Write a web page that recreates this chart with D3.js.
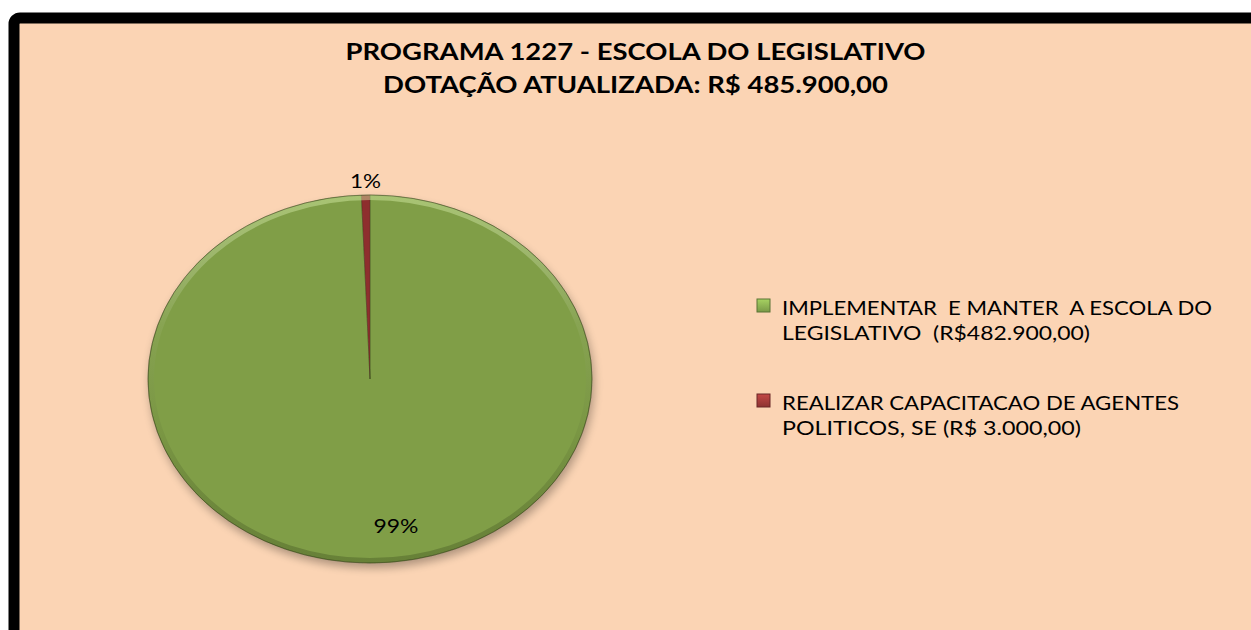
<!DOCTYPE html>
<html>
<head>
<meta charset="utf-8">
<script src="https://cdn.jsdelivr.net/npm/d3@7"></script>
<style>
  html, body { margin: 0; padding: 0; background: #ffffff; }
  svg { display: block; }
</style>
</head>
<body>
<svg id="chart" width="1251" height="630"></svg>
<script>
// ---------- data ----------
const titleLines = ["PROGRAMA 1227 - ESCOLA DO LEGISLATIVO", "DOTAÇÃO ATUALIZADA: R$ 485.900,00"];
const categories = ["IMPLEMENTAR E MANTER A ESCOLA DO LEGISLATIVO (R$482.900,00)",
                    "REALIZAR CAPACITACAO DE AGENTES POLITICOS, SE (R$ 3.000,00)"];
const legendLines = [["IMPLEMENTAR  E MANTER  A ESCOLA DO", "LEGISLATIVO  (R$482.900,00)"],
                     ["REALIZAR CAPACITACAO DE AGENTES", "POLITICOS, SE (R$ 3.000,00)"]];
const values = [482900, 3000];
const percentLabels = ["99%", "1%"];
const colors = ["#809E46", "#8E2F2D"];
const markerColors = ["#8CB052", "#A33B3A"];

// ---------- layout ----------
const W = 1251, H = 630;
const font = "Lato, 'Open Sans', 'DejaVu Sans', sans-serif";
const svg = d3.select("#chart");
const defs = svg.append("defs");

// frame
svg.append("rect")
  .attr("x", 14).attr("y", 18)
  .attr("width", W + 40).attr("height", H + 40)
  .attr("rx", 6).attr("ry", 6)
  .attr("fill", "#FBD4B4")
  .attr("stroke", "#000").attr("stroke-width", 11);

// title
const titleWidths = [580, 505];
svg.append("g").selectAll("text").data(titleLines).join("text")
  .attr("x", 635.5)
  .attr("y", (d, i) => 60 + i * 33)
  .attr("text-anchor", "middle")
  .attr("font-family", font).attr("font-weight", 700).attr("font-size", 22)
  .attr("fill", "#000")
  .attr("textLength", (d, i) => titleWidths[i])
  .attr("lengthAdjust", "spacingAndGlyphs")
  .text(d => d);

// pie
const cx = 370, cy = 379, rx = 222, ry = 184;
const sx = rx / ry;
const pie = d3.pie().sort(null).value(d => d);
const arcs = pie(values);
const arc = d3.arc().innerRadius(0).outerRadius(ry);

// shadow filter
const f = defs.append("filter").attr("id", "shadow")
  .attr("x", "-20%").attr("y", "-20%").attr("width", "140%").attr("height", "140%");
f.append("feGaussianBlur").attr("in", "SourceAlpha").attr("stdDeviation", 4).attr("result", "b");
f.append("feOffset").attr("in", "b").attr("dx", 2).attr("dy", 5).attr("result", "o");
f.append("feComponentTransfer").attr("in", "o").attr("result", "oa")
  .append("feFuncA").attr("type", "linear").attr("slope", 0.3);
const fm = f.append("feMerge");
fm.append("feMergeNode").attr("in", "oa");
fm.append("feMergeNode").attr("in", "SourceGraphic");

// rim gradient
const rg = defs.append("linearGradient").attr("id", "rim")
  .attr("x1", 0).attr("y1", 0).attr("x2", 0).attr("y2", 1);
rg.append("stop").attr("offset", "0%").attr("stop-color", "#d8f0a8").attr("stop-opacity", 0.45);
rg.append("stop").attr("offset", "35%").attr("stop-color", "#ffffff").attr("stop-opacity", 0.06);
rg.append("stop").attr("offset", "65%").attr("stop-color", "#000000").attr("stop-opacity", 0.05);
rg.append("stop").attr("offset", "100%").attr("stop-color", "#1e2a0a").attr("stop-opacity", 0.25);

const pg = svg.append("g").attr("transform", `translate(${cx},${cy}) scale(${sx},1)`);
const pieBody = pg.append("g").attr("filter", "url(#shadow)");
pieBody.selectAll("path.slice").data(arcs).join("path")
  .attr("class", "slice")
  .attr("d", arc)
  .attr("fill", (d, i) => colors[i])
  .attr("stroke", "rgba(40,50,20,0.3)")
  .attr("stroke-width", 1)
  .attr("vector-effect", "non-scaling-stroke");

// bevel rim
pg.append("circle").attr("r", ry - 2.5)
  .attr("fill", "none")
  .attr("stroke", "url(#rim)")
  .attr("stroke-width", 5);
pg.append("circle").attr("r", ry)
  .attr("fill", "none")
  .attr("stroke", "rgba(50,65,25,0.45)")
  .attr("stroke-width", 1)
  .attr("vector-effect", "non-scaling-stroke");

// percent labels
function labelPos(d, i) {
  const a = (d.startAngle + d.endAngle) / 2;
  const r = i === 1 ? ry + 7 : ry * 0.8;
  return [cx + Math.sin(a) * r * sx, cy - Math.cos(a) * r];
}
svg.append("g").selectAll("text").data(arcs).join("text")
  .attr("x", (d, i) => labelPos(d, i)[0])
  .attr("y", (d, i) => labelPos(d, i)[1])
  .attr("dy", (d, i) => i === 1 ? 0 : "0.35em")
  .attr("text-anchor", (d, i) => i === 1 ? "middle" : "start")
  .attr("font-family", font).attr("font-size", 19)
  .attr("fill", "#000")
  .attr("textLength", (d, i) => i === 1 ? 31 : 45)
  .attr("lengthAdjust", "spacingAndGlyphs")
  .text((d, i) => percentLabels[i]);

// legend
markerColors.forEach((c, i) => {
  const g = defs.append("linearGradient").attr("id", "mk" + i)
    .attr("x1", 0).attr("y1", 0).attr("x2", 0).attr("y2", 1);
  g.append("stop").attr("offset", "0%").attr("stop-color", d3.color(c).brighter(0.5));
  g.append("stop").attr("offset", "100%").attr("stop-color", d3.color(c).darker(0.4));
});
const legendWidths = [[430, 308], [397, 299]];
const lg = svg.append("g").selectAll("g").data(legendLines).join("g")
  .attr("transform", (d, i) => `translate(0, ${i * 95})`);
lg.append("rect")
  .attr("x", 757).attr("y", 299)
  .attr("width", 13).attr("height", 13)
  .attr("fill", (d, i) => `url(#mk${i})`)
  .attr("stroke", (d, i) => d3.color(markerColors[i]).darker(1.2))
  .attr("stroke-width", 1);
lg.each(function (lines, i) {
  d3.select(this).selectAll("text").data(lines).join("text")
    .attr("x", 782)
    .attr("y", (d, j) => 315 + j * 25)
    .attr("font-family", font).attr("font-size", 19)
    .attr("fill", "#000")
    .attr("xml:space", "preserve")
    .attr("textLength", (d, j) => legendWidths[i][j])
    .attr("lengthAdjust", "spacingAndGlyphs")
    .text(d => d);
});
</script>
</body>
</html>
